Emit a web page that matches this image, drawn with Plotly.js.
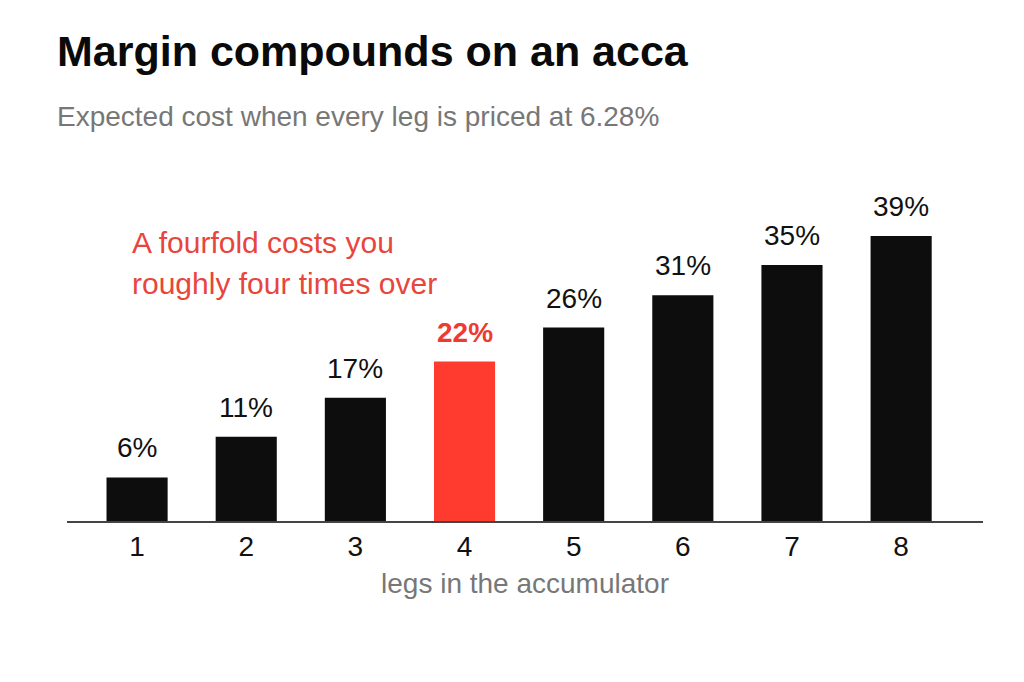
<!DOCTYPE html>
<html>
<head>
<meta charset="utf-8">
<script src="https://cdn.plot.ly/plotly-3.0.1.min.js"></script>
<style>html,body{margin:0;padding:0;background:#fff;}#chart{width:1024px;height:682px;}</style>
</head>
<body>
<div id="chart"></div>
<script>
const legs = [1, 2, 3, 4, 5, 6, 7, 8];
const costPct = [5.9, 11.4, 16.7, 21.6, 26.2, 30.6, 34.7, 38.6];
const tickLabels = ['1', '2', '3', '4', '5', '6', '7', '8'];
const highlightIndex = 3;

const BLACK = '#0d0d0d';
const RED = '#ff3b2f';
const FONT = 'Liberation Sans, Arial, sans-serif';

const barColors = legs.map((_, i) => i === highlightIndex ? RED : BLACK);

const trace = {
  type: 'bar',
  x: legs,
  y: costPct,
  width: 0.56,
  marker: {color: barColors, line: {width: 0}},
  cliponaxis: false,
  hoverinfo: 'skip'
};

const valueAnnotations = costPct.map((v, i) => ({
  text: i === highlightIndex ? '<b>' + Math.round(v) + '%</b>' : Math.round(v) + '%',
  xref: 'x', yref: 'y',
  x: legs[i], y: v,
  xanchor: 'center', yanchor: 'bottom',
  yshift: 12,
  showarrow: false,
  font: {family: FONT, size: 28, color: i === highlightIndex ? '#ee3b30' : '#111'}
}));

const layout = {
  width: 1024,
  height: 682,
  margin: {l: 67, r: 41, t: 180, b: 161},
  paper_bgcolor: '#ffffff',
  plot_bgcolor: '#ffffff',
  showlegend: false,
  font: {family: FONT, color: '#111'},
  title: {
    text: '<b>Margin compounds on an acca</b>',
    font: {family: FONT, size: 43, color: '#0a0a0a'},
    xref: 'container', yref: 'container',
    x: 57 / 1024, xanchor: 'left',
    y: 1 - 36 / 682, yanchor: 'top'
  },
  xaxis: {
    range: [0.358, 8.75],
    tickmode: 'array',
    tickvals: legs,
    ticktext: tickLabels,
    tickfont: {family: FONT, size: 28, color: '#111'},
    ticks: '',
    showgrid: false,
    zeroline: false,
    showline: true,
    linecolor: '#444',
    linewidth: 1.5,
    title: {text: 'legs in the accumulator', font: {family: FONT, size: 28, color: '#777'}, standoff: 12},
    fixedrange: true
  },
  yaxis: {
    range: [0, 46.2],
    visible: false,
    showgrid: false,
    zeroline: false,
    fixedrange: true
  },
  annotations: valueAnnotations.concat([
    {
      text: 'Expected cost when every leg is priced at 6.28%',
      xref: 'paper', yref: 'paper',
      x: (55 - 67) / 916, xanchor: 'left',
      y: (521 - 117) / 341, yanchor: 'middle',
      showarrow: false,
      font: {family: FONT, size: 28, color: '#777'}
    },
    {
      text: 'A fourfold costs you',
      xref: 'paper', yref: 'paper',
      x: (130 - 67) / 916, xanchor: 'left',
      y: (521 - 243) / 341, yanchor: 'middle',
      showarrow: false,
      font: {family: FONT, size: 30, color: '#e8453c'}
    },
    {
      text: 'roughly four times over',
      xref: 'paper', yref: 'paper',
      x: (130 - 67) / 916, xanchor: 'left',
      y: (521 - 283) / 341, yanchor: 'middle',
      showarrow: false,
      font: {family: FONT, size: 30, color: '#e8453c'}
    }
  ])
};

Plotly.newPlot('chart', [trace], layout, {displayModeBar: false, staticPlot: true});
</script>
</body>
</html>
